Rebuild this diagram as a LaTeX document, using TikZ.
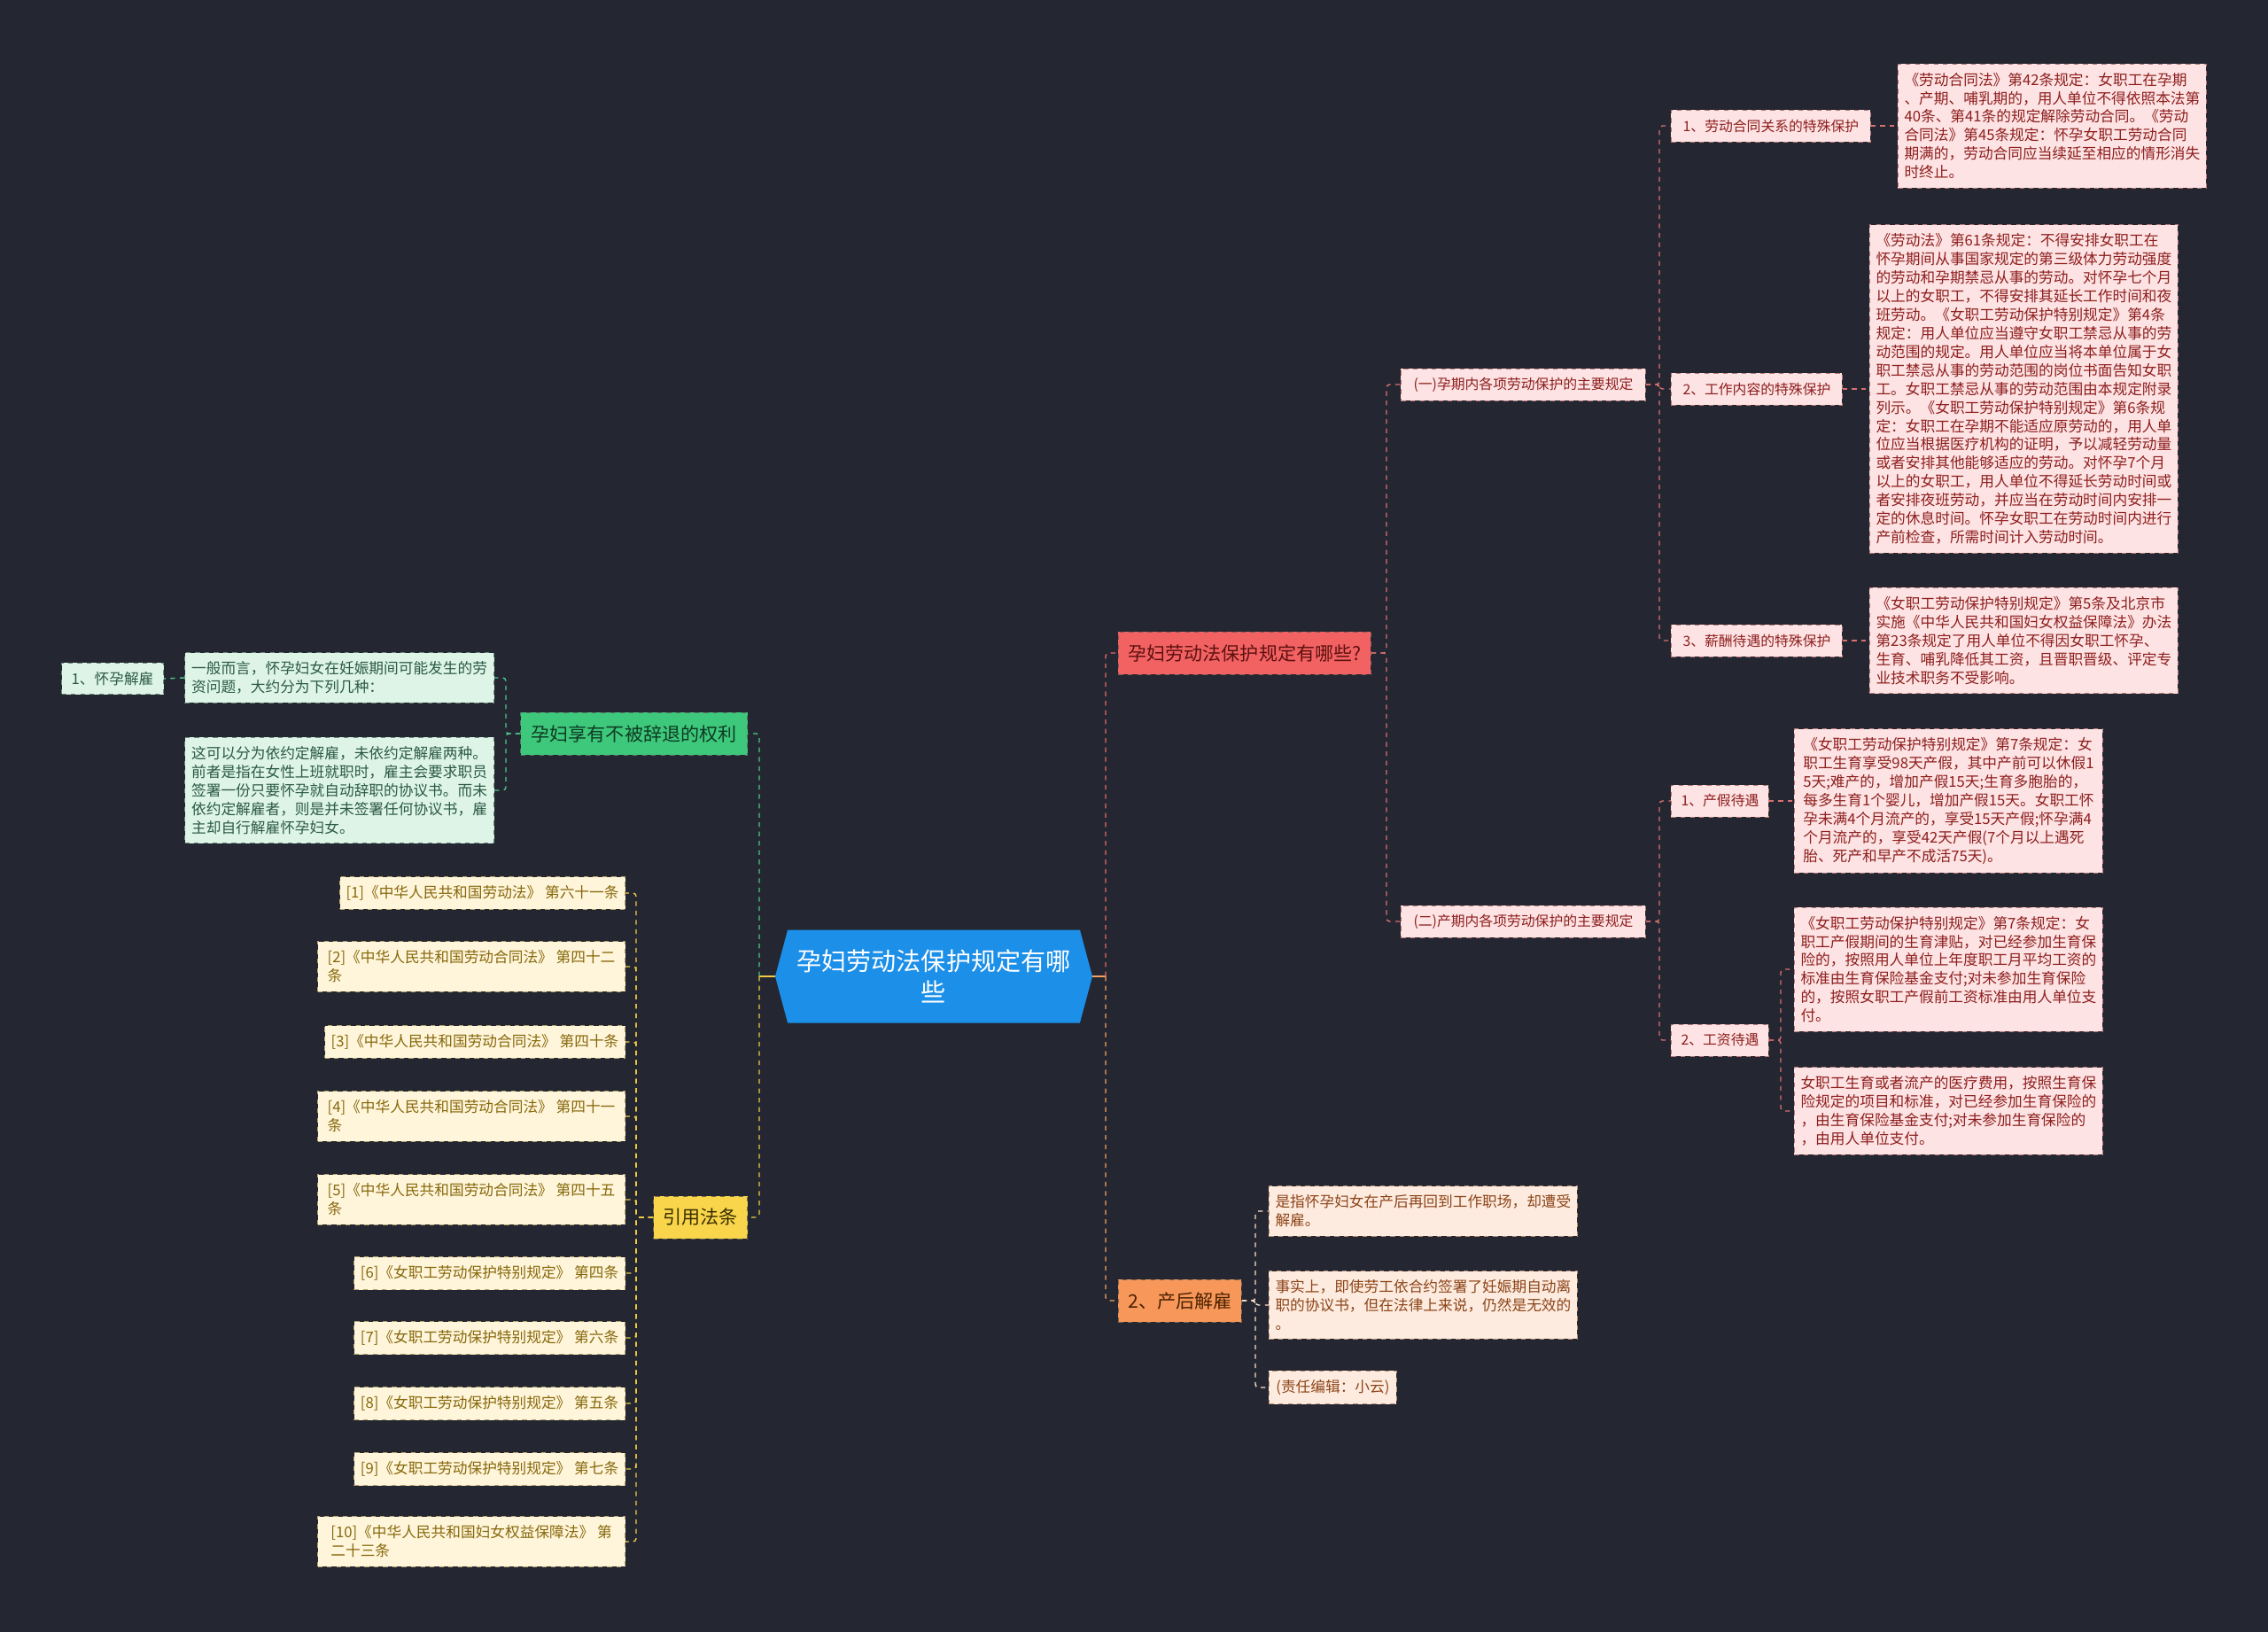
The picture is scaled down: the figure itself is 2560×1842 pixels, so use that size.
\documentclass[tikz,border=0pt]{standalone}
\usepackage{fontspec}
\setmainfont{Noto Sans CJK SC}
\usetikzlibrary{shapes.symbols}
\definecolor{bg}{HTML}{242731}
\definecolor{cblue}{HTML}{1C8FE9}
\definecolor{redfill}{HTML}{F26262}
\definecolor{redtxt}{HTML}{5E1010}
\definecolor{redln}{HTML}{E56A6A}
\definecolor{pkfill}{HTML}{FDE3E3}
\definecolor{pktxt}{HTML}{8E1E1E}
\definecolor{pkln}{HTML}{D97070}
\definecolor{orfill}{HTML}{F7975A}
\definecolor{ortxt}{HTML}{4A2200}
\definecolor{orln}{HTML}{F4A262}
\definecolor{pcfill}{HTML}{FDEBDF}
\definecolor{pctxt}{HTML}{8C4418}
\definecolor{grfill}{HTML}{3EC87C}
\definecolor{grtxt}{HTML}{0E3A22}
\definecolor{grln}{HTML}{4CC886}
\definecolor{mtfill}{HTML}{DDF4E7}
\definecolor{mttxt}{HTML}{2C5A42}
\definecolor{yefill}{HTML}{F8D54B}
\definecolor{yetxt}{HTML}{3A2E00}
\definecolor{yeln}{HTML}{EFCB42}
\definecolor{crfill}{HTML}{FFF5DA}
\definecolor{crtxt}{HTML}{86680C}
\newcommand\upx{0.02cm}

\begin{document}
\begin{tikzpicture}[x=0.02cm,y=-0.02cm,
  nd/.style={draw,dashed,line width=0.5pt,inner xsep=7*\upx,inner ysep=10*\upx,align=left,font=\fontsize{9.5}{11.9}\selectfont},
  lbl/.style={nd,inner ysep=0pt,minimum height=36*\upx,font=\fontsize{9}{11}\selectfont},
  top/.style={nd,inner ysep=0pt,minimum height=48*\upx,font=\fontsize{12}{14}\selectfont},
  pk/.style={fill=pkfill,draw=pktxt!60,text=pktxt},
  pc/.style={fill=pcfill,draw=pctxt!60,text=pctxt},
  mt/.style={fill=mtfill,draw=mttxt!70,text=mttxt},
  cr/.style={fill=crfill,draw=crtxt!60,text=crtxt},
  ln/.style={dashed,line width=0.8pt,rounded corners=2pt}]
  % background, fixes the page size
  \fill[bg] (0,0) rectangle (2560,1842);
  % spines of the connectors
  \coordinate (sR) at (1248,0); \coordinate (sL) at (857,0);
  \coordinate (sQ) at (1565,0); \coordinate (sA) at (1873,0);
  \coordinate (sW) at (2010,0); \coordinate (sP) at (1417,0);
  \coordinate (sG) at (571,0);  \coordinate (sY) at (718,0);
  % centre
  \node[signal,signal to=east and west,signal pointer angle=150,fill=cblue,text=white,
    minimum width=358*\upx,minimum height=105*\upx,align=center,
    font=\fontsize{16}{20}\selectfont] (c) at (1054,1102) {孕妇劳动法保护规定有哪\\些};
  % first level
  \node[top,fill=redfill,draw=redtxt!70,text=redtxt,anchor=west,minimum width=285*\upx] (q) at (1262,737) {孕妇劳动法保护规定有哪些?};
  \node[top,fill=orfill,draw=ortxt!70,text=ortxt,anchor=west,minimum width=139*\upx] (post) at (1262,1468) {2、产后解雇};
  \node[top,fill=grfill,draw=grtxt!70,text=grtxt,anchor=east,minimum width=256*\upx] (keep) at (844,828) {孕妇享有不被辞退的权利};
  \node[top,fill=yefill,draw=yetxt!70,text=yetxt,anchor=east,minimum width=106*\upx] (law) at (844,1374) {引用法条};
  % right: pregnancy and maternity rules
  \node[lbl,pk,anchor=west,minimum width=276*\upx] (q1) at (1581,434) {(一)孕期内各项劳动保护的主要规定};
  \node[lbl,pk,anchor=west,minimum width=276*\upx] (q2) at (1581,1040) {(二)产期内各项劳动保护的主要规定};
  \node[lbl,pk,anchor=west,minimum width=225*\upx] (a1) at (1886,142) {1、劳动合同关系的特殊保护};
  \node[lbl,pk,anchor=west,minimum width=193*\upx] (a2) at (1886,439) {2、工作内容的特殊保护};
  \node[lbl,pk,anchor=west,minimum width=193*\upx] (a3) at (1886,723) {3、薪酬待遇的特殊保护};
  \node[lbl,pk,anchor=west,minimum width=110*\upx] (b1) at (1886,904) {1、产假待遇};
  \node[lbl,pk,anchor=west,minimum width=110*\upx] (b2) at (1886,1174) {2、工资待遇};
  \node[nd,pk,anchor=west,minimum width=348*\upx] (ta1) at (2142,142) {《劳动合同法》第42条规定：女职工在孕期\\、产期、哺乳期的，用人单位不得依照本法第\\40条、第41条的规定解除劳动合同。《劳动\\合同法》第45条规定：怀孕女职工劳动合同\\期满的，劳动合同应当续延至相应的情形消失\\时终止。};
  \node[nd,pk,anchor=west,minimum width=348*\upx] (ta2) at (2110,439) {《劳动法》第61条规定：不得安排女职工在\\怀孕期间从事国家规定的第三级体力劳动强度\\的劳动和孕期禁忌从事的劳动。对怀孕七个月\\以上的女职工，不得安排其延长工作时间和夜\\班劳动。《女职工劳动保护特别规定》第4条\\规定：用人单位应当遵守女职工禁忌从事的劳\\动范围的规定。用人单位应当将本单位属于女\\职工禁忌从事的劳动范围的岗位书面告知女职\\工。女职工禁忌从事的劳动范围由本规定附录\\列示。《女职工劳动保护特别规定》第6条规\\定：女职工在孕期不能适应原劳动的，用人单\\位应当根据医疗机构的证明，予以减轻劳动量\\或者安排其他能够适应的劳动。对怀孕7个月\\以上的女职工，用人单位不得延长劳动时间或\\者安排夜班劳动，并应当在劳动时间内安排一\\定的休息时间。怀孕女职工在劳动时间内进行\\产前检查，所需时间计入劳动时间。};
  \node[nd,pk,anchor=west,minimum width=348*\upx] (ta3) at (2110,723) {《女职工劳动保护特别规定》第5条及北京市\\实施《中华人民共和国妇女权益保障法》办法\\第23条规定了用人单位不得因女职工怀孕、\\生育、哺乳降低其工资，且晋职晋级、评定专\\业技术职务不受影响。};
  \node[nd,pk,anchor=west,minimum width=348*\upx] (tb1) at (2025,904) {《女职工劳动保护特别规定》第7条规定：女\\职工生育享受98天产假，其中产前可以休假1\\5天;难产的，增加产假15天;生育多胞胎的，\\每多生育1个婴儿，增加产假15天。女职工怀\\孕未满4个月流产的，享受15天产假;怀孕满4\\个月流产的，享受42天产假(7个月以上遇死\\胎、死产和早产不成活75天)。};
  \node[nd,pk,anchor=west,minimum width=348*\upx] (w1) at (2025,1094) {《女职工劳动保护特别规定》第7条规定：女\\职工产假期间的生育津贴，对已经参加生育保\\险的，按照用人单位上年度职工月平均工资的\\标准由生育保险基金支付;对未参加生育保险\\的，按照女职工产假前工资标准由用人单位支\\付。};
  \node[nd,pk,anchor=west,minimum width=348*\upx] (w2) at (2025,1254) {女职工生育或者流产的医疗费用，按照生育保\\险规定的项目和标准，对已经参加生育保险的\\，由生育保险基金支付;对未参加生育保险的\\，由用人单位支付。};
  % right: dismissal after birth
  \node[nd,pc,anchor=west,minimum width=348*\upx] (p1) at (1432,1367) {是指怀孕妇女在产后再回到工作职场，却遭受\\解雇。};
  \node[nd,pc,anchor=west,minimum width=348*\upx] (p2) at (1432,1473) {事实上，即使劳工依合约签署了妊娠期自动离\\职的协议书，但在法律上来说，仍然是无效的\\。};
  \node[nd,pc,anchor=west,minimum width=144*\upx] (p3) at (1432,1566) {(责任编辑：小云)};
  % left: not to be dismissed
  \node[nd,mt,anchor=east,minimum width=349*\upx] (g1) at (558,765) {一般而言，怀孕妇女在妊娠期间可能发生的劳\\资问题，大约分为下列几种：};
  \node[nd,mt,anchor=east,minimum width=349*\upx] (g2) at (558,892) {这可以分为依约定解雇，未依约定解雇两种。\\前者是指在女性上班就职时，雇主会要求职员\\签署一份只要怀孕就自动辞职的协议书。而未\\依约定解雇者，则是并未签署任何协议书，雇\\主却自行解雇怀孕妇女。};
  \node[nd,mt,anchor=east,minimum width=115*\upx] (g0) at (185,766) {1、怀孕解雇};
  % left: cited articles
  \foreach \k/\y/\w/\t in {1/1008/322/{《中华人民共和国劳动法》 第六十一条},
      2/1091/347/{《中华人民共和国劳动合同法》 第四十二\\条},
      3/1176/339/{《中华人民共和国劳动合同法》 第四十条},
      4/1260/347/{《中华人民共和国劳动合同法》 第四十一\\条},
      5/1354/347/{《中华人民共和国劳动合同法》 第四十五\\条},
      6/1437/306/{《女职工劳动保护特别规定》 第四条},
      7/1510/306/{《女职工劳动保护特别规定》 第六条},
      8/1584/306/{《女职工劳动保护特别规定》 第五条},
      9/1658/306/{《女职工劳动保护特别规定》 第七条},
      10/1740/347/{《中华人民共和国妇女权益保障法》 第\\二十三条}}
    \node[nd,cr,anchor=east,minimum width=\w*\upx] (r\k) at (706,\y) {[\k]\t};
  % connectors
  \draw[line width=0.8pt,orln] (c.east) -- (c.east -| sR);
  \draw[ln,redln] (c.east -| sR) |- (q.west);
  \draw[ln,orln] (c.east -| sR) |- (post.west);
  \draw[line width=0.8pt,yeln] (c.west) -- (c.west -| sL);
  \draw[ln,grln] (c.west -| sL) |- (keep.east);
  \draw[ln,yeln] (c.west -| sL) |- (law.east);
  \foreach \n in {q1,q2} \draw[ln,pkln] (q.east) -- (q.east -| sQ) |- (\n.west);
  \foreach \n in {a1,a2,a3} \draw[ln,pkln] (q1.east) -- (q1.east -| sA) |- (\n.west);
  \foreach \n in {b1,b2} \draw[ln,pkln] (q2.east) -- (q2.east -| sA) |- (\n.west);
  \foreach \n in {a1,a2,a3,b1} \draw[ln,pkln] (\n.east) -- (t\n.west);
  \foreach \n in {w1,w2} \draw[ln,pkln] (b2.east) -- (b2.east -| sW) |- (\n.west);
  \foreach \n in {p1,p2,p3} \draw[ln,pcfill!85!orln] (post.east) -- (post.east -| sP) |- (\n.west);
  \foreach \n in {g1,g2} \draw[ln,grln] (keep.west) -- (keep.west -| sG) |- (\n.east);
  \draw[ln,grln] (g1.west) -- (g0.east);
  \foreach \k in {1,...,10} \draw[ln,yeln] (law.west) -- (law.west -| sY) |- (r\k.east);
\end{tikzpicture}
\end{document}
